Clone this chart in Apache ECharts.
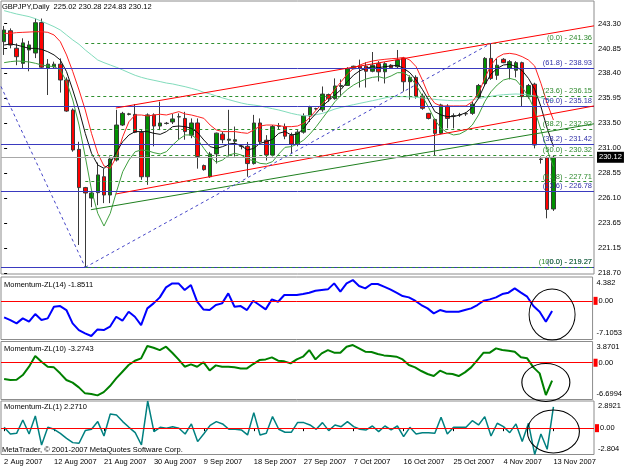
<!DOCTYPE html>
<html>
<head>
<meta charset="utf-8">
<script src="https://cdn.jsdelivr.net/npm/echarts@6/dist/echarts.min.js"></script>
</head>
<body style="margin:0;background:#fff">
<div id="main" style="width:625px;height:469px"></div>
<script>
// bars (Sunday sessions included, as the broker shows them)
var dates = [
  '2 Aug 2007','3 Aug 2007','5 Aug 2007','6 Aug 2007','7 Aug 2007','8 Aug 2007','9 Aug 2007','10 Aug 2007',
  '12 Aug 2007','13 Aug 2007','14 Aug 2007','15 Aug 2007','16 Aug 2007','17 Aug 2007','19 Aug 2007','20 Aug 2007',
  '21 Aug 2007','22 Aug 2007','23 Aug 2007','24 Aug 2007','26 Aug 2007','27 Aug 2007','28 Aug 2007','29 Aug 2007',
  '30 Aug 2007','31 Aug 2007','2 Sep 2007','3 Sep 2007','4 Sep 2007','5 Sep 2007','6 Sep 2007','7 Sep 2007',
  '9 Sep 2007','10 Sep 2007','11 Sep 2007','12 Sep 2007','13 Sep 2007','14 Sep 2007','16 Sep 2007','17 Sep 2007',
  '18 Sep 2007','19 Sep 2007','20 Sep 2007','21 Sep 2007','23 Sep 2007','24 Sep 2007','25 Sep 2007','26 Sep 2007',
  '27 Sep 2007','28 Sep 2007','30 Sep 2007','1 Oct 2007','2 Oct 2007','3 Oct 2007','4 Oct 2007','5 Oct 2007',
  '7 Oct 2007','8 Oct 2007','9 Oct 2007','10 Oct 2007','11 Oct 2007','12 Oct 2007','14 Oct 2007','15 Oct 2007',
  '16 Oct 2007','17 Oct 2007','18 Oct 2007','19 Oct 2007','21 Oct 2007','22 Oct 2007','23 Oct 2007','24 Oct 2007',
  '25 Oct 2007','26 Oct 2007','28 Oct 2007','29 Oct 2007','30 Oct 2007','31 Oct 2007','1 Nov 2007','2 Nov 2007',
  '4 Nov 2007','5 Nov 2007','6 Nov 2007','7 Nov 2007','8 Nov 2007','9 Nov 2007','11 Nov 2007','12 Nov 2007',
  '13 Nov 2007'
];

// [open, close, low, high]
var candles = [
  [241.52,242.67,240.21,243.07],[242.60,241.19,240.86,242.83],[240.87,240.04,239.20,241.35],[239.38,241.40,238.90,241.85],
  [240.70,241.20,238.60,241.60],[240.40,243.39,239.90,243.80],[243.40,239.00,238.90,243.80],[238.90,239.30,236.26,239.80],
  [239.05,239.30,238.90,239.55],[239.30,237.74,236.50,239.87],[237.74,234.68,234.60,238.00],[234.78,230.84,230.67,234.94],
  [230.90,227.13,221.47,231.65],[227.13,226.60,219.27,227.20],[226.10,226.60,225.20,226.70],[226.63,228.38,225.40,229.60],
  [228.20,226.40,225.60,229.00],[226.40,229.95,225.60,230.20],[229.85,233.30,229.70,234.80],[233.30,234.45,233.20,234.60],
  [234.35,234.40,234.25,234.50],[234.35,232.58,232.50,235.37],[232.58,228.20,227.90,232.80],[228.20,234.30,227.40,234.45],
  [234.30,233.20,231.20,234.45],[233.20,233.50,232.80,235.60],[233.45,233.48,233.35,233.60],[233.60,233.90,233.40,234.40],
  [234.10,234.12,231.85,234.45],[233.95,232.65,231.85,234.60],[232.30,233.50,232.00,233.95],[233.50,230.20,229.00,233.95],
  [229.30,228.90,228.80,229.40],[228.20,230.45,228.10,230.65],[230.45,232.50,229.50,232.55],[232.40,231.85,231.50,232.65],
  [231.80,231.90,230.20,234.80],[231.70,231.85,230.20,233.15],[231.20,231.22,230.90,231.40],[231.20,229.50,228.20,231.63],
  [229.50,233.50,229.40,234.30],[233.50,231.65,231.50,233.95],[231.80,230.35,229.80,232.30],[230.35,233.15,230.20,233.30],
  [233.18,233.20,232.90,233.50],[233.15,232.20,231.90,233.45],[232.30,231.42,230.45,232.55],[231.42,232.60,231.20,232.80],
  [232.60,234.20,232.45,234.45],[234.20,235.05,233.60,235.20],[234.90,234.92,234.80,235.00],[234.80,236.35,234.60,237.10],
  [236.30,235.90,235.60,236.40],[235.90,237.15,235.80,237.90],[237.10,237.20,236.10,237.80],[237.20,238.85,237.20,239.00],
  [238.85,239.10,238.80,239.15],[239.10,238.90,237.00,239.75],[239.10,238.60,237.00,239.50],[238.60,239.20,238.50,240.50],
  [239.35,238.55,237.60,239.60],[238.55,239.35,237.40,239.50],[239.20,238.95,238.90,239.30],[239.05,239.70,238.90,240.70],
  [239.87,237.57,236.60,240.00],[237.57,238.00,235.80,238.20],[238.00,236.15,235.90,238.20],[236.15,234.95,234.80,236.40],
  [234.45,233.95,233.85,234.50],[233.85,232.48,230.33,233.95],[232.48,235.28,232.40,235.40],[235.16,233.95,232.97,235.35],
  [234.20,234.22,232.97,234.45],[234.30,234.32,234.10,234.50],[234.40,234.42,234.20,234.55],[234.45,235.35,234.30,235.60],
  [236.05,237.20,235.90,237.35],[237.40,239.87,237.20,240.00],[239.87,237.90,237.75,241.36],[238.20,239.20,237.75,239.87],
  [239.78,239.45,239.40,239.90],[238.90,239.55,237.80,239.70],[238.70,239.45,238.00,239.60],[239.45,236.10,235.10,239.55],
  [236.10,237.20,235.90,237.35],[237.33,231.33,231.00,237.47],[229.95,229.90,229.50,230.20],[230.07,224.98,224.10,230.20],
  [225.02,230.12,224.83,230.28]
];

var maAqua = [
  244.58,244.41,244.25,244.12,243.99,243.79,243.53,243.27,243.00,242.67,
  242.18,241.69,241.26,240.70,240.21,239.71,239.45,239.22,238.99,238.73,
  238.46,238.20,238.00,237.84,237.71,237.58,237.44,237.35,237.21,237.08,
  236.92,236.75,236.52,236.36,236.16,235.97,235.80,235.63,235.47,235.34,
  235.27,235.18,235.04,234.91,234.78,234.62,234.45,234.32,234.22,234.22,
  234.32,234.45,234.65,234.88,235.04,235.18,235.31,235.44,235.57,235.70,
  235.83,235.97,236.10,236.10,236.10,236.07,236.03,235.97,235.90,235.83,
  235.77,235.73,235.70,235.70,235.73,235.80,235.90,236.03,236.13,236.23,
  236.29,236.33,236.36,236.33,236.26,236.16,236.00,235.83,235.67
];
var maBlack = [
  241.19,241.29,241.19,241.03,240.86,240.86,240.76,240.53,240.21,239.71,
  238.56,236.75,234.78,232.48,230.51,229.36,229.03,229.52,230.67,231.66,
  232.32,232.65,232.65,232.65,232.48,232.38,232.65,233.14,233.20,233.14,
  232.97,232.55,231.82,231.17,231.00,231.17,231.43,231.50,231.23,230.84,
  231.00,231.50,231.66,231.89,232.48,232.65,232.32,232.42,232.98,233.80,
  234.46,235.18,235.70,236.26,236.82,237.58,238.23,238.66,238.89,239.06,
  238.96,239.06,239.12,239.19,238.89,238.46,237.74,236.82,235.77,234.62,
  234.29,234.13,234.13,234.29,234.52,235.04,235.93,237.25,238.33,238.89,
  239.22,239.29,239.06,238.66,237.90,236.82,235.11,232.97,231.17
];
var bandRed = [
  242.34,242.34,242.41,242.44,242.47,242.50,242.50,242.44,242.18,241.52,
  240.21,238.56,236.75,234.78,232.48,230.51,229.26,229.03,230.18,232.15,
  233.63,234.29,234.29,234.19,234.29,234.36,234.29,234.45,234.62,234.39,
  234.29,234.13,233.96,233.30,232.81,232.65,232.65,232.65,232.55,232.48,
  232.81,233.20,233.30,233.30,233.24,233.14,233.14,233.20,233.47,234.06,
  234.78,235.44,236.03,236.82,237.58,238.33,238.89,239.22,239.45,239.61,
  239.71,239.78,239.84,239.88,239.97,239.71,239.06,237.74,236.26,235.44,
  235.18,235.18,235.18,235.18,235.18,235.60,236.42,237.90,239.22,239.97,
  240.30,240.37,240.27,240.04,239.71,239.12,237.41,235.44,233.80
];
var bandGreen = [
  239.45,239.55,239.61,239.58,239.52,239.39,239.22,239.12,239.06,238.73,
  237.58,235.77,233.30,230.18,226.89,224.59,223.34,224.59,226.72,228.70,
  229.85,230.67,230.84,230.77,230.57,230.44,230.67,231.33,231.89,232.32,
  232.32,231.89,231.00,230.18,229.62,229.85,230.34,230.51,230.34,229.92,
  229.79,229.52,229.46,229.69,230.44,231.10,231.17,231.43,231.82,232.42,
  233.14,233.96,234.78,235.60,236.26,236.82,237.25,237.58,237.84,238.00,
  238.07,237.90,238.14,238.46,238.46,238.07,237.25,236.16,235.04,233.80,
  232.98,232.55,232.32,232.42,232.75,233.30,234.29,235.60,236.59,237.25,
  237.74,237.90,237.74,237.02,236.10,234.78,232.81,230.84,229.20
];

var mom14 = [
  -3.04,-3.53,-4.14,-3.22,-3.84,-2.43,-3.53,-3.22,-1.08,-0.96,
  -1.69,-4.14,-5.37,-5.98,-6.47,-5.25,-5.37,-4.75,-2.92,-3.65,
  -2.00,-2.92,-4.45,-1.38,-0.47,0.64,2.48,3.21,3.21,1.99,
  2.90,-0.16,-1.57,-1.69,-0.77,-0.47,1.37,-1.08,-0.96,-1.69,
  0.02,-0.77,-1.57,0.27,-0.16,1.07,1.07,1.07,1.25,1.50,
  1.86,1.99,2.11,3.21,1.68,3.21,3.82,2.72,2.29,3.09,
  3.09,2.60,2.11,1.50,0.88,0.64,0.02,-0.77,-1.38,-2.30,
  -1.69,-2.00,-2.00,-2.00,-1.69,-1.38,-0.77,0.02,0.27,0.64,
  1.25,1.50,2.29,1.50,0.76,-0.96,-2.00,-3.84,-1.85
];
var mom10 = [
  -2.98,-3.15,-3.09,-2.24,-0.72,1.22,0.19,-0.72,-0.84,-1.93,
  -3.15,-3.63,-4.49,-5.58,-5.70,-5.95,-5.35,-4.25,-2.86,-1.64,
  -0.42,0.37,0.80,3.04,2.74,2.31,2.92,1.83,0.61,-0.72,
  -0.30,-0.72,0.10,-1.40,-0.48,-0.72,-0.72,-0.84,-1.03,-1.03,
  -0.24,0.49,0.61,0.98,0.37,0.25,-0.12,0.61,1.10,2.31,
  0.61,1.71,2.31,1.83,1.83,2.92,3.23,2.62,2.01,1.95,
  1.59,1.34,1.22,1.10,0.61,-0.42,-0.85,-1.51,-2.05,-2.42,
  -1.45,-1.94,-2.05,-2.42,-1.76,-0.85,0.49,1.83,1.83,2.62,
  2.31,2.19,2.01,0.98,0.80,-0.85,-1.94,-5.89,-3.27
];
var mom1 = [
  0.09,-0.62,-0.55,0.87,-0.62,1.30,-1.79,0.09,-0.12,-0.55,
  -1.08,-1.54,-1.61,-0.26,-0.12,0.70,-0.83,1.51,1.41,0.70,
  0.09,-0.48,-1.79,2.89,-0.37,0.09,-0.01,0.16,-0.01,-0.62,
  0.45,-1.43,-0.60,0.30,0.70,0.45,-0.12,-0.12,-0.19,-0.72,
  1.65,-0.72,-0.55,1.23,-0.12,-0.44,-0.44,0.59,0.59,0.34,
  -0.12,0.59,-0.26,0.34,0.16,0.70,0.16,-0.12,-0.19,0.23,
  -0.37,0.23,-0.19,0.23,-0.90,0.09,-0.62,-0.48,-0.48,-0.55,
  1.16,-0.62,0.09,0.09,0.09,0.80,0.34,1.23,-0.83,0.52,
  0.16,-0.48,0.45,-1.43,0.52,-2.80,-0.62,-2.25,2.27
];

// price scale
var priceRange = [218.61, 245.53];
var priceTicks = [243.30, 240.85, 238.40, 235.95, 233.50, 231.00, 228.55, 226.10, 223.65, 221.15, 218.70];
var lastClose = 230.12;

// subwindow scales
var mom14Range = [-7.1053, 4.382], mom14Text = ['-7.1053', '4.382'];
var mom10Range = [-6.6994, 3.8701], mom10Text = ['-6.6994', '3.8701'];
var mom1Range = [-2.804, 2.8921], mom1Text = ['-2.804', '2.8921'];

// fibonacci objects
var fibAnchorBar = 13;
var fibGreenLevels = [241.36, 236.15, 232.92, 230.32, 227.71, 219.27];
var fibGreenPct = ['0.0', '23.6', '38.2', '50.0', '61.8', '100.0'];
var fibBlueLevels = [238.93, 235.18, 231.42, 226.78, 219.27];
var fibBluePct = ['61.8', '50.0', '38.2', '23.6', '0.0'];

// trend lines [bar, price]
var redUpper = [[17.9, 234.98], [94.5, 243.08]];
var redLower = [[17.9, 226.50], [94.5, 235.18]];
var greenTrend = [[13.9, 224.95], [94.5, 233.42]];
var blueDash1 = [[-0.5, 237.10], [13, 219.27]];
var blueDash2 = [[13, 219.27], [78, 241.36]];

// circled last readings [bar, value]
var circle14 = [88, -2.52], circle10 = [87, -3.6], circle1 = [88, -0.35];

var FONT = 'Liberation Sans';
var FS = 7.5;
var nBars = dates.length;
var categories = dates.concat(['', '', '', '', '', '']); // empty shift at the right

var chart = echarts.init(document.getElementById('main'));

function fibLabel(pct, v, color) {
  return {show: true, position: 'insideEndTop', distance: [2, 1],
    formatter: '(' + pct + ') - ' + v.toFixed(2), color: color, fontSize: FS, fontFamily: FONT};
}
function seg(pts, color, dash) {
  return [{coord: pts[0], lineStyle: {color: color, width: 1, type: dash ? [3, 3] : 'solid'}, label: {show: false}},
          {coord: pts[1]}];
}

var objLines = [];
fibBlueLevels.forEach(function (v, k) {
  objLines.push({yAxis: v, lineStyle: {color: '#3a3abf', width: 1, type: 'solid'},
    label: fibLabel(fibBluePct[k], v, '#3030a8')});
});
fibGreenLevels.forEach(function (v, k) {
  objLines.push([
    {coord: [fibAnchorBar, v], lineStyle: {color: '#2f8f2f', width: 1, type: [3, 3]},
     label: fibLabel(fibGreenPct[k], v, '#2f8a2f')},
    {coord: [94.5, v]}
  ]);
});
objLines.push(seg(redUpper, '#ff0000', false));
objLines.push(seg(redLower, '#ff0000', false));
objLines.push(seg(greenTrend, '#1f7f1f', false));
objLines.push(seg(blueDash1, '#4646c8', true));
objLines.push(seg(blueDash2, '#4646c8', true));
objLines.push({yAxis: lastClose, lineStyle: {color: '#a8a8a8', width: 1, type: 'solid'},
  label: {show: true, position: 'end', distance: 3, formatter: lastClose.toFixed(2),
    backgroundColor: '#000', color: '#fff', padding: [2, 2, 1, 2], fontSize: FS, fontFamily: FONT}});

function zeroLine() {
  return {silent: true, symbol: ['none', 'none'], animation: false,
    data: [{yAxis: 0, lineStyle: {color: '#ff0000', width: 1, type: 'solid'},
      label: {show: true, position: 'end', distance: 1, formatter: '{r|}{t|0.00}',
        rich: {r: {backgroundColor: '#ff0000', width: 4, height: 8},
               t: {color: '#000', fontSize: FS, fontFamily: FONT, padding: [0, 0, 0, 1]}}}}]};
}
function circle(c, size) {
  return {silent: true, symbol: 'circle', symbolSize: size, label: {show: false}, animation: false,
    itemStyle: {color: 'rgba(0,0,0,0)', borderColor: '#000', borderWidth: 1},
    data: [{coord: c}]};
}
function subAxis(g, range, text) {
  var span = range[1] - range[0];
  return {gridIndex: g, position: 'right', min: range[0], max: range[1],
    axisLine: {show: false}, splitLine: {show: false}, axisTick: {show: false},
    axisLabel: {customValues: [range[1] - span * 0.09, range[0] + span * 0.1], margin: 4,
      fontSize: FS, fontFamily: FONT, color: '#000',
      formatter: function (v) { return v > 0 ? text[1] : text[0]; }}};
}
function catAxis(g, labels) {
  var a = {type: 'category', gridIndex: g, data: categories, boundaryGap: true,
    axisLine: {show: false}, axisTick: {show: false}, axisLabel: {show: false}, splitLine: {show: false}};
  if (labels) {
    var every = function (i) { return i % 8 === 0 && i < nBars; };
    a.axisTick = {show: true, interval: every, alignWithLabel: true, length: 3, lineStyle: {color: '#000'}};
    a.axisLabel = {show: true, interval: every, align: 'left', margin: 3,
      fontSize: FS, fontFamily: FONT, color: '#000'};
  }
  return a;
}
function lineSeries(data, color, width, x, y) {
  return {type: 'line', data: data, xAxisIndex: x, yAxisIndex: y, symbol: 'none', z: 3,
    lineStyle: {color: color, width: width}, silent: true, animation: false};
}

var txt = {fontSize: FS, fontFamily: FONT, fontWeight: 'normal', color: '#000'};
var gridStyle = {show: true, borderColor: '#8c8c8c', borderWidth: 1, backgroundColor: '#fff', left: 1, width: 593};

var s14 = lineSeries(mom14, '#0000ff', 2, 1, 1);
s14.markLine = zeroLine(); s14.markPoint = circle(circle14, [46, 51]);
var s10 = lineSeries(mom10, '#008000', 2, 2, 2);
s10.markLine = zeroLine(); s10.markPoint = circle(circle10, [48, 38]);
var s1 = lineSeries(mom1, '#008080', 1.5, 3, 3);
s1.markLine = zeroLine(); s1.markPoint = circle(circle1, [52, 43]);

chart.setOption({
  animation: false,
  backgroundColor: '#fff',
  title: [
    {text: 'GBPJPY,Daily  225.02 230.28 224.83 230.12', left: 2, top: 3, padding: 0, textStyle: txt},
    {text: 'Momentum-ZL(14) -1.8511', left: 4, top: 280.5, padding: 0, textStyle: txt},
    {text: 'Momentum-ZL(10) -3.2743', left: 4, top: 344.5, padding: 0, textStyle: txt},
    {text: 'Momentum-ZL(1) 2.2710', left: 4, top: 403, padding: 0, textStyle: txt},
    {text: 'MetaTrader, \u00a9 2001-2007 MetaQuotes Software Corp.', left: 2, top: 445.5, padding: 0, textStyle: txt}
  ],
  grid: [
    Object.assign({top: 1, height: 273}, gridStyle),
    Object.assign({top: 277, height: 62.5}, gridStyle),
    Object.assign({top: 341.5, height: 58}, gridStyle),
    Object.assign({top: 401, height: 53.5}, gridStyle)
  ],
  xAxis: [
    catAxis(0, false), catAxis(1, false), catAxis(2, false), catAxis(3, true),
    {type: 'value', gridIndex: 0, min: -0.5, max: 94.5, show: false}
  ],
  yAxis: [
    {gridIndex: 0, position: 'right', min: priceRange[0], max: priceRange[1],
      axisLine: {show: false}, splitLine: {show: false},
      axisTick: {show: true, customValues: priceTicks, length: 3, lineStyle: {color: '#000'}},
      axisLabel: {customValues: priceTicks, margin: 4, fontSize: FS, fontFamily: FONT, color: '#000',
        formatter: function (v) { return v.toFixed(2); }}},
    subAxis(1, mom14Range, mom14Text),
    subAxis(2, mom10Range, mom10Text),
    subAxis(3, mom1Range, mom1Text)
  ],
  series: [
    {type: 'candlestick', data: candles, xAxisIndex: 0, yAxisIndex: 0, barWidth: 4, z: 2, silent: true,
      itemStyle: {color: '#009000', color0: '#ff0000', borderColor: '#3a3a3a', borderColor0: '#3a3a3a', borderWidth: 1}},
    lineSeries(maAqua, '#82dcbc', 1, 0, 0),
    lineSeries(bandRed, '#ff2020', 1, 0, 0),
    lineSeries(bandGreen, '#3f9f3f', 1, 0, 0),
    lineSeries(maBlack, '#111111', 1, 0, 0),
    {type: 'line', data: [], xAxisIndex: 4, yAxisIndex: 0, z: 4, silent: true,
      markLine: {silent: true, symbol: ['none', 'none'], animation: false, data: objLines}},
    s14, s10, s1
  ]
});
</script>
</body>
</html>
